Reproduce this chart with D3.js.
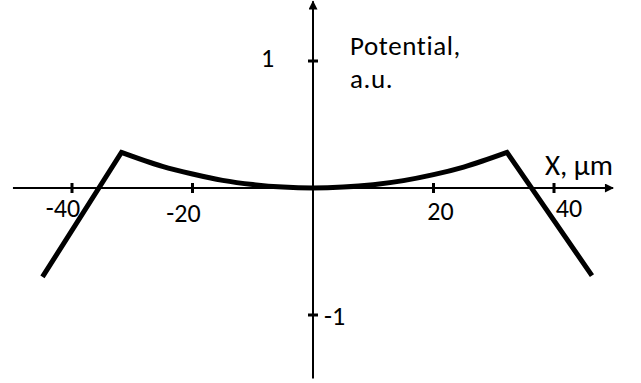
<!DOCTYPE html>
<html>
<head>
<meta charset="utf-8">
<script src="https://cdn.jsdelivr.net/npm/d3@7"></script>
<style>
  html, body { margin: 0; padding: 0; background: #fff; }
  svg { display: block; }
  text { font-family: Carlito, Calibri, Lato, sans-serif; fill: #000; font-variant-ligatures: none; }
</style>
</head>
<body>
<svg id="chart" width="641" height="383"></svg>
<script>
// Potential profile along X (µm), arbitrary units
const xValues = [-44.9, -31.8, -25, -20, -15, -10, -5, 0, 5, 10, 15, 20, 25, 32.2, 46.3];
const potential = [-0.70, 0.28, 0.17, 0.11, 0.06, 0.027, 0.007, 0, 0.007, 0.026, 0.058, 0.105, 0.165, 0.28, -0.69];

const xTicks = [-40, -20, 20, 40];
const xTickLabels = ["-40", "-20", "20", "40"];
const yTicks = [1, -1];
const yTickLabels = ["1", "-1"];

const xAxisTitle = "X, \u00b5m";
const yAxisTitle = ["Potential,", "a.u."];

const svg = d3.select("#chart");

const x = d3.scaleLinear().domain([-40, 40]).range([72, 554]);
const y = d3.scaleLinear().domain([-1, 1]).range([315, 61]);

// arrow heads for the axes
const defs = svg.append("defs");
defs.append("marker")
  .attr("id", "arrow")
  .attr("viewBox", "0 0 10 10")
  .attr("refX", 9).attr("refY", 5)
  .attr("markerWidth", 5).attr("markerHeight", 4.5)
  .attr("markerUnits", "strokeWidth")
  .attr("orient", "auto")
  .append("path")
  .attr("d", "M0,0 L10,5 L0,10 Z")
  .attr("fill", "#000");

// horizontal axis
svg.append("line")
  .attr("x1", x(-49.8)).attr("x2", x(49.8))
  .attr("y1", y(0)).attr("y2", y(0))
  .attr("stroke", "#000").attr("stroke-width", 2)
  .attr("marker-end", "url(#arrow)");

// vertical axis
svg.append("line")
  .attr("x1", x(0)).attr("x2", x(0))
  .attr("y1", y(-1.5)).attr("y2", y(1.47))
  .attr("stroke", "#000").attr("stroke-width", 2)
  .attr("marker-end", "url(#arrow)");

// x ticks
svg.selectAll(".xtick").data(xTicks).join("rect")
  .attr("class", "xtick")
  .attr("x", d => x(d) - 1.5).attr("y", y(0) - 5)
  .attr("width", 3).attr("height", 10)
  .attr("fill", "#000");

// y ticks
svg.selectAll(".ytick").data(yTicks).join("rect")
  .attr("class", "ytick")
  .attr("x", x(0) - 5).attr("y", d => y(d) - 1.5)
  .attr("width", 10).attr("height", 3)
  .attr("fill", "#000");

// x tick labels (hand-placed beside each tick)
const xLabelShift = [-9, -9, 7, 15];
const xLabelBase = [217, 222, 220, 217];
svg.selectAll(".xlabel").data(xTicks).join("text")
  .attr("class", "xlabel")
  .attr("x", (d, i) => x(d) + xLabelShift[i])
  .attr("y", (d, i) => xLabelBase[i])
  .attr("text-anchor", "middle")
  .attr("font-size", 26)
  .text((d, i) => xTickLabels[i]);

// y tick labels
svg.append("text")
  .attr("x", 267.5).attr("y", y(1) + 6)
  .attr("text-anchor", "middle")
  .attr("font-size", 26)
  .text(yTickLabels[0]);
svg.append("text")
  .attr("x", 324).attr("y", y(-1) + 10)
  .attr("font-size", 26)
  .text(yTickLabels[1]);

// axis titles
const yTitle = svg.append("text")
  .attr("x", 350).attr("y", 55)
  .attr("font-size", 27)
  .attr("letter-spacing", 0.6);
yTitle.selectAll("tspan").data(yAxisTitle).join("tspan")
  .attr("x", 350)
  .attr("dy", (d, i) => i === 0 ? 0 : 33)
  .text(d => d);

svg.append("text")
  .attr("x", 545).attr("y", 175)
  .attr("font-size", 29)
  .text(xAxisTitle);

// potential curve
const line = d3.line()
  .x(d => x(d[0]))
  .y(d => y(d[1]))
  .curve(d3.curveLinear);

const pts = xValues.map((v, i) => [v, potential[i]]);
// smooth bowl between the two peaks, straight flanks outside
const bowl = pts.slice(1, pts.length - 1);
const bowlPath = d3.line().x(d => x(d[0])).y(d => y(d[1])).curve(d3.curveMonotoneX)(bowl);
const leftFlank = line([pts[0], pts[1]]);
const rightFlank = line([pts[pts.length - 2], pts[pts.length - 1]]);

svg.append("path")
  .attr("d", leftFlank + bowlPath.replace(/^M[^A-Z]*/, m => "L" + m.slice(1)) + rightFlank.replace(/^M[^L]*/, ""))
  .attr("fill", "none")
  .attr("stroke", "#000")
  .attr("stroke-width", 5)
  .attr("stroke-linejoin", "miter");
</script>
</body>
</html>
